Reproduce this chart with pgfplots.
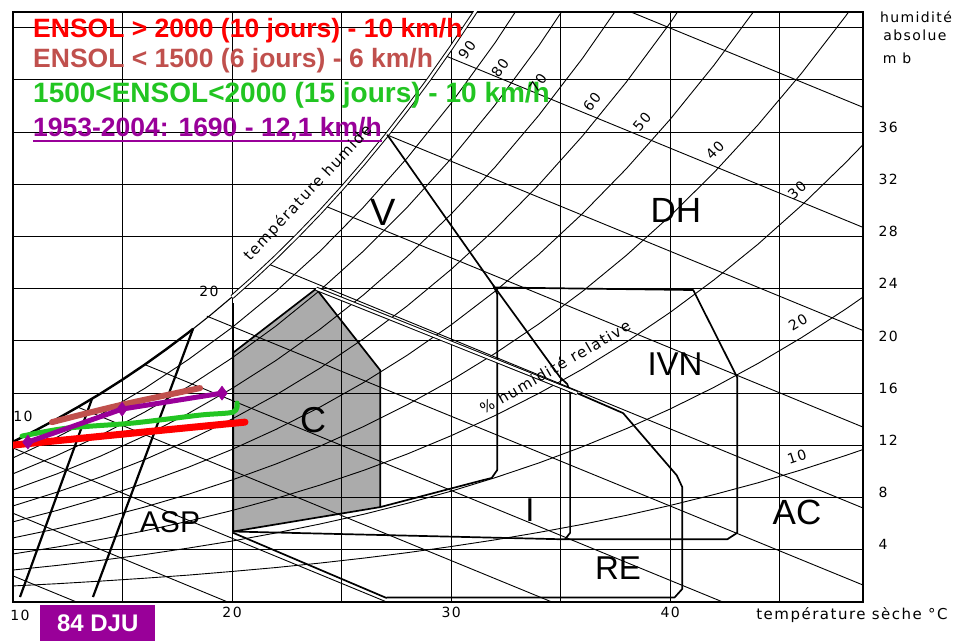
\documentclass[border=0pt]{standalone}
\usepackage{fontspec}
\setmainfont{Liberation Sans}
\newfontfamily\scanfont[LetterSpace=10]{DejaVu Sans}
\usepackage{pgfplots}
\pgfplotsset{compat=1.18}

\definecolor{cRed}{RGB}{255,0,0}
\definecolor{cBrown}{RGB}{192,80,77}
\definecolor{cGreen}{RGB}{34,197,34}
\definecolor{cPurple}{RGB}{153,0,153}
\tikzset{
  fam/.style={black, line width=0.9pt},
  zone/.style={black, line width=1.7pt, line join=round},
  scan/.style={font=\fontsize{14}{14}\scanfont, inner sep=0pt},
  zlab/.style={font=\fontsize{33}{33}\selectfont, inner sep=0pt},
}

\begin{document}
\begin{tikzpicture}
\useasboundingbox (0pt,0pt) rectangle (962pt,641pt);
\begin{axis}[
  at={(13pt,39pt)}, anchor=south west,
  scale only axis, width=850pt, height=590pt,
  xmin=10, xmax=48.8, ymin=0, ymax=45.2,
  axis line style={line width=1.7pt},
  xtick={10,15,...,45}, xticklabels={{},{},20,{},30,{},40,{}},
  ytick={4,8,...,44}, yticklabels={4,8,12,16,20,24,28,32,36,{},{}},
  yticklabel pos=right,
  major tick length=0pt,
  grid=major, major grid style={black, line width=1.1pt},
  xticklabel style={font=\fontsize{14}{14}\scanfont, yshift=-2pt},
  yticklabel style={font=\fontsize{14}{14}\scanfont, xshift=12pt, yshift=5pt},
  clip mode=individual,
]
% zone C (shaded)
\addplot[fill=black, fill opacity=0.33, draw=black, line width=1.7pt, line join=round]
  coordinates {(20.05,5.4) (20.05,19.1) (23.84,24.0) (26.76,17.76) (26.76,7.27) (20.05,5.4)};

% relative humidity curves
\addplot[fam] coordinates {(10,11.04)(12,12.62)(14,14.37)(16,16.35)(18,18.57)(20,21.03)(22,23.79)(24,26.85)(26,30.25)(28,34.03)(30,38.21)(32,42.83)(34,47.93)};
\addplot[fam] coordinates {(10,9.82)(12,11.22)(14,12.78)(16,14.54)(18,16.50)(20,18.70)(22,21.14)(24,23.86)(26,26.89)(28,30.25)(30,33.97)(32,38.07)(34,42.61)(36,47.61)};
\addplot[fam] coordinates {(10,8.59)(12,9.81)(14,11.18)(16,12.72)(18,14.44)(20,16.36)(22,18.50)(24,20.88)(26,23.53)(28,26.47)(30,29.72)(32,33.31)(34,37.28)(36,41.66)(38,46.48)};
\addplot[fam] coordinates {(10,7.36)(12,8.41)(14,9.58)(16,10.90)(18,12.38)(20,14.02)(22,15.86)(24,17.90)(26,20.17)(28,22.69)(30,25.48)(32,28.55)(34,31.96)(36,35.71)(38,39.84)(40,44.37)(42,49.35)};
\addplot[fam] coordinates {(10,6.14)(12,7.01)(14,7.99)(16,9.09)(18,10.32)(20,11.69)(22,13.22)(24,14.92)(26,16.81)(28,18.91)(30,21.23)(32,23.80)(34,26.63)(36,29.76)(38,33.20)(40,36.98)(42,41.13)(44,45.67)};
\addplot[fam] coordinates {(10,4.91)(12,5.61)(14,6.39)(16,7.27)(18,8.25)(20,9.35)(22,10.57)(24,11.93)(26,13.44)(28,15.12)(30,16.98)(32,19.04)(34,21.30)(36,23.80)(38,26.56)(40,29.58)(42,32.90)(44,36.54)(46,40.52)(48,44.87)(48.8,46.71)};
\addplot[fam] coordinates {(10,3.68)(12,4.21)(14,4.79)(16,5.45)(18,6.19)(20,7.01)(22,7.93)(24,8.95)(26,10.08)(28,11.34)(30,12.74)(32,14.28)(34,15.98)(36,17.85)(38,19.92)(40,22.19)(42,24.68)(44,27.40)(46,30.39)(48,33.65)(48.8,35.03)};
\addplot[fam] coordinates {(10,2.45)(12,2.80)(14,3.19)(16,3.63)(18,4.13)(20,4.67)(22,5.29)(24,5.97)(26,6.72)(28,7.56)(30,8.49)(32,9.52)(34,10.65)(36,11.90)(38,13.28)(40,14.79)(42,16.45)(44,18.27)(46,20.26)(48,22.43)(48.8,23.36)};
\addplot[fam] coordinates {(10,1.23)(12,1.40)(14,1.60)(16,1.82)(18,2.06)(20,2.34)(22,2.64)(24,2.98)(26,3.36)(28,3.78)(30,4.25)(32,4.76)(34,5.33)(36,5.95)(38,6.64)(40,7.40)(42,8.23)(44,9.13)(46,10.13)(48,11.22)(48.8,11.68)};

% wet-bulb lines
\addplot[fam] coordinates {(32.55,49.1)(48.8,37.9)};
\addplot[fam] coordinates {(29.8,41.8)(48.8,28.7)};
\addplot[fam] coordinates {(27.05,35.8)(48.8,20.8)};
\addplot[fam] coordinates {(24.3,30.3)(48.8,13.4)};
\addplot[fam] coordinates {(21.65,25.9)(48.8,7.2)};
\addplot[fam] coordinates {(18.85,21.9)(48.8,1.3)};
\addplot[fam] coordinates {(16.0,18.2)(42.4,0)};
\addplot[fam] coordinates {(13.0,14.9)(34.6,0)};
\addplot[fam] coordinates {(10,11.8)(27.06,0)};
\addplot[fam] coordinates {(10,6.8)(19.8,0)};
\addplot[fam] coordinates {(10,2.0)(12.9,0)};

% saturation curve
\addplot[black, line width=1.1pt] coordinates {(10,12.27)(11,13.12)(12,14.02)(13,14.97)(14,15.97)(15,17.04)(16,18.17)(17,19.37)(18,20.63)(19,21.96)(20,23.37)};
\addplot[black, line width=2.4pt] coordinates {(10,12.27)(11,13.12)(12,14.02)(13,14.97)(14,15.97)(15,17.04)(16,18.17)(17,19.37)(18,20.63)(18.22,20.93)};
\addplot[black, line width=1.0pt, double=white, double distance=2.4pt] coordinates {(20,23.37)(21,24.86)(22,26.43)(23,28.09)(24,29.83)(25,31.67)(26,33.61)(27,35.65)(28,37.81)(29,40.07)(30,42.46)(31,44.96)(31.5,46.27)};

% ASP zone lines
\addplot[zone, line width=2.2pt] coordinates {(18.22,20.93)(13.65,0.38)};
\addplot[zone, line width=2.2pt] coordinates {(13.61,15.58)(10.32,0.38)};

% V zone
\addplot[zone] coordinates {(20.05,22.9)(20.05,5.4)};
\addplot[zone] coordinates {(27.08,35.8)(31.92,24.27)(32.1,23.6)(32.1,10.1)(31.85,9.5)(31.46,9.34)(26.76,7.27)};
% I and IVN zones
\addplot[zone] coordinates {(31.92,24.27)(34.98,17.2)(35.3,16.7)(35.43,16.0)(35.43,5.3)(35.2,4.8)};
\addplot[zone] coordinates {(20.05,5.4)(35.2,4.8)(42.6,4.8)(43.06,5.3)(43.06,17.2)(41.05,23.9)(31.92,24.1)};
% RE zone
\addplot[black, line width=1.0pt, double=white, double distance=2.2pt] coordinates {(23.84,24.0)(35.75,16.0)};
\addplot[zone] coordinates {(35.75,16.0)(37.85,14.47)(40.3,9.7)(40.55,8.8)(40.55,1.0)(40.2,0.35)(27.06,0.35)};
\addplot[zone] coordinates {(20.05,5.3)(27.06,0.3)};

% measured series
\addplot[cBrown, line width=6pt, line cap=round, smooth] coordinates {(11.78,13.78)(14.89,15.08)(18.54,16.39)};
\addplot[cGreen, line width=5pt, line cap=round, line join=round, smooth] coordinates {(10.41,12.71)(12.47,13.32)(15.48,13.71)(18.54,14.32)(20.05,14.55)(20.23,15.24)};
\addplot[cRed, line width=7pt, line cap=round, smooth] coordinates {(10,12.02)(15.48,12.94)(20.59,13.78)};
\addplot[cPurple, line width=5pt, line cap=round, mark=diamond*, mark size=7pt, mark options={fill=cPurple, draw=cPurple, line width=0.5pt}] coordinates {(10.68,12.25)(14.98,14.78)(19.54,16.0)};
\end{axis}

% legend texts
\node[anchor=base west, inner sep=0, text=cRed, font=\bfseries\fontsize{26.5}{26.5}\selectfont] at (33pt,603pt) {ENSOL > 2000 (10 jours) - 10 km/h};
\node[anchor=base west, inner sep=0, text=cBrown, font=\bfseries\fontsize{26.5}{26.5}\selectfont] at (33pt,573pt) {ENSOL < 1500 (6 jours) - 6 km/h};
\node[anchor=base west, inner sep=0, text=cGreen, font=\bfseries\fontsize{28}{28}\selectfont] at (33pt,538pt) {1500<ENSOL<2000 (15 jours) - 10 km/h};
\node[anchor=base west, inner sep=0, text=cPurple, font=\bfseries\fontsize{26.5}{26.5}\selectfont] at (33pt,504pt) {1953-2004: 1690 - 12,1 km/h};
\draw[cPurple, line width=2.5pt] (33pt,500pt) -- (382pt,500pt);

\node[fill=cPurple, text=white, font=\bfseries\fontsize{24}{24}\selectfont, minimum width=115pt, minimum height=36pt, inner sep=0, anchor=south west] at (40pt,0pt) {84 DJU};

% zone labels
\node[zlab, font=\fontsize{38}{38}\selectfont] at (383pt,429pt) {V};
\node[zlab, font=\fontsize{35}{35}\selectfont] at (676pt,431pt) {DH};
\node[zlab] at (675pt,277pt) {IVN};
\node[zlab, font=\fontsize{36}{36}\selectfont] at (313pt,221pt) {C};
\node[zlab] at (530pt,131pt) {I};
\node[zlab] at (618pt,73pt) {RE};
\node[zlab, font=\fontsize{35}{35}\selectfont] at (797pt,129pt) {AC};
\node[zlab, font=\fontsize{30}{30}\selectfont] at (170pt,119pt) {ASP};

% scan texts
\node[scan] at (23pt,225pt) {10};
\node[scan] at (209pt,350pt) {20};
\node[scan] at (20pt,26pt) {10};
\node[scan, rotate=55] at (467pt,591pt) {90};
\node[scan, rotate=55] at (500pt,573pt) {80};
\node[scan, rotate=55] at (538pt,558pt) {70};
\node[scan, rotate=52] at (592pt,539pt) {60};
\node[scan, rotate=50] at (642pt,519pt) {50};
\node[scan, rotate=46] at (715pt,491pt) {40};
\node[scan, rotate=42] at (797pt,451pt) {30};
\node[scan, rotate=31] at (798pt,319pt) {20};
\node[scan, rotate=18] at (797pt,184pt) {10};
\node[scan, rotate=47, font=\fontsize{15}{15}\scanfont] at (308pt,448pt) {température humide};
\node[scan, rotate=30, font=\fontsize{15}{15}\scanfont] at (555pt,274pt) {\% humidité relative};
\node[scan, font=\fontsize{14}{14}\scanfont] at (916pt,624pt) {humidité};
\node[scan, font=\fontsize{14}{14}\scanfont] at (915pt,606pt) {absolue};
\node[scan, font=\fontsize{14}{14}\scanfont] at (897pt,583pt) {m b};
\node[scan, font=\fontsize{15}{15}\scanfont] at (852pt,26pt) {température  sèche  °C};
\end{tikzpicture}
\end{document}
